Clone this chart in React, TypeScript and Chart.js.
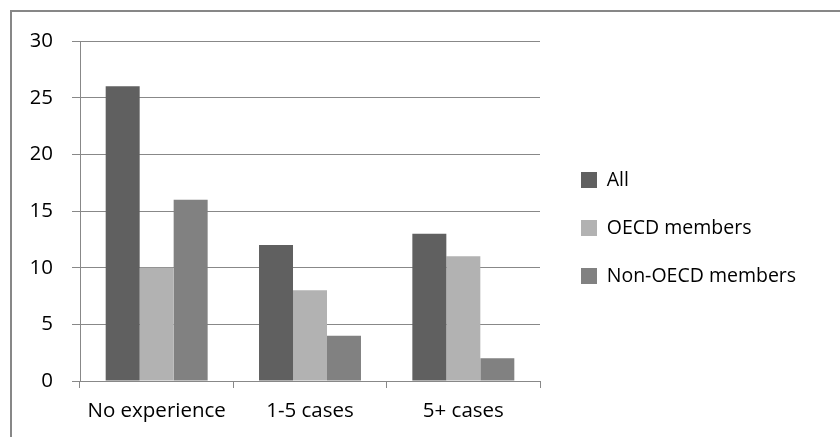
import React, { useEffect, useRef } from "react";
import { Chart, registerables } from "chart.js";

Chart.register(...registerables);

// Survey counts by level of experience
const categories = ["No experience", "1-5 cases", "5+ cases"];
const seriesNames = ["All", "OECD members", "Non-OECD members"];
const allValues = [26, 12, 13];
const oecdValues = [10, 8, 11];
const nonOecdValues = [16, 4, 2];
const yTicks = [0, 5, 10, 15, 20, 25, 30];

const seriesColors = ["#606060", "#b2b2b2", "#818181"];
const FONT = "'Open Sans', 'Noto Sans', sans-serif";
const AXIS_FONT_SIZE = 20.5;
const LEGEND_FONT_SIZE = 19.5;
const GRID = "#888888";

const WIDTH = 840;
const HEIGHT = 437;
const LEGEND_LEFT = 552.5;
const LEGEND_PAD = 28.5;
const LEGEND_BOX = 16;

export default function App() {
  const canvasRef = useRef<HTMLCanvasElement | null>(null);

  useEffect(() => {
    const canvas = canvasRef.current;
    if (!canvas) return;

    // width of the legend column, so that it starts at a fixed x
    const measure = document.createElement("canvas").getContext("2d")!;
    measure.font = `${LEGEND_FONT_SIZE}px ${FONT}`;
    const textW = Math.max(...seriesNames.map((n) => measure.measureText(n).width));
    const legendWidth = LEGEND_PAD + LEGEND_BOX + LEGEND_FONT_SIZE / 2 + textW + 10;
    const rightPad = WIDTH - LEGEND_LEFT - legendWidth;

    const values = [allValues, oecdValues, nonOecdValues];
    const chart = new Chart(canvas, {
      type: "bar",
      data: {
        labels: categories,
        datasets: seriesNames.map((name, i) => ({
          label: name,
          data: values[i],
          backgroundColor: seriesColors[i],
          borderWidth: 0,
          categoryPercentage: 0.665,
          barPercentage: 1,
        })),
      },
      options: {
        responsive: false,
        animation: false,
        layout: { padding: { left: 30.7, right: rightPad, top: 41, bottom: 3 } },
        plugins: {
          tooltip: { enabled: false },
          legend: {
            position: "right",
            align: "start",
            maxWidth: legendWidth + 2,
            title: {
              display: true,
              text: "",
              font: { size: 10, lineHeight: 1 },
              padding: { top: 90.75, bottom: 0 },
            },
            labels: {
              boxWidth: LEGEND_BOX,
              boxHeight: LEGEND_BOX,
              padding: LEGEND_PAD,
              color: "#000",
              font: { family: FONT, size: LEGEND_FONT_SIZE },
            },
          },
        },
        scales: {
          x: {
            grid: {
              drawOnChartArea: false,
              drawTicks: true,
              tickLength: 7,
              color: GRID,
              offset: true,
            },
            border: { color: GRID, width: 1 },
            ticks: {
              color: "#000",
              padding: 0,
              maxRotation: 0,
              font: { family: FONT, size: AXIS_FONT_SIZE, lineHeight: 46 / AXIS_FONT_SIZE },
            },
          },
          y: {
            min: 0,
            max: 30,
            afterBuildTicks: (scale: any) => {
              scale.ticks = yTicks.map((v) => ({ value: v }));
            },
            afterFit: (scale: any) => {
              scale.width = 49.3;
            },
            grid: { color: GRID, tickLength: 8, lineWidth: 1 },
            border: { color: GRID, width: 1 },
            ticks: {
              color: "#000",
              padding: 19,
              font: { family: FONT, size: AXIS_FONT_SIZE },
            },
          },
          gap: {
            type: "linear",
            position: "right",
            display: true,
            grid: { display: false },
            border: { display: false },
            ticks: { display: false },
            afterFit: (scale: any) => {
              scale.width = 12.5;
            },
          },
        },
      },
    });
    return () => chart.destroy();
  }, []);

  return (
    <div style={{ position: "relative", width: WIDTH, height: HEIGHT, overflow: "hidden", background: "#fff" }}>
      <style>{"body{margin:0}"}</style>
      <div
        style={{
          position: "absolute",
          left: 10,
          top: 10,
          width: 900,
          height: 500,
          borderTop: "2px solid #878787",
          borderLeft: "2px solid #878787",
        }}
      />
      <canvas
        ref={canvasRef}
        width={WIDTH}
        height={HEIGHT}
        style={{ position: "absolute", left: 0, top: 0 }}
      />
    </div>
  );
}
